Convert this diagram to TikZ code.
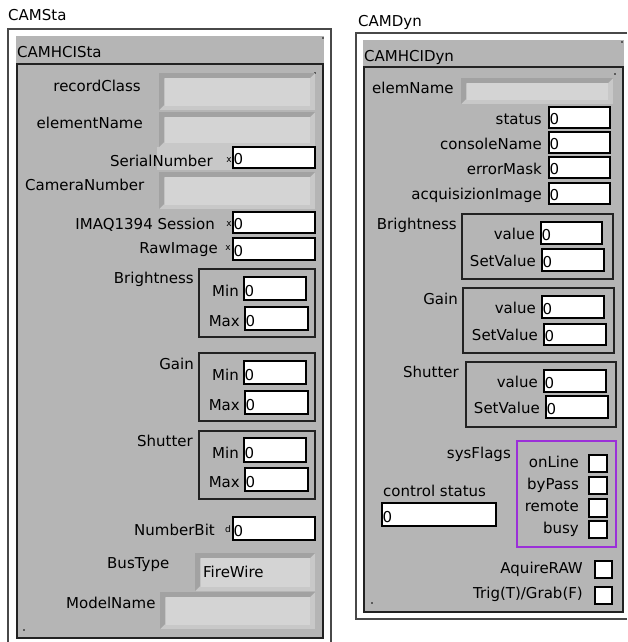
\documentclass[tikz,border=0pt]{standalone}
\usepackage{fontspec}
\setmainfont{DejaVu Sans}
\definecolor{panelgray}{HTML}{B5B5B5}
\definecolor{rimdark}{HTML}{A2A2A2}
\definecolor{rimlight}{HTML}{C8C8C8}
\definecolor{fieldgray}{HTML}{D4D4D4}
\definecolor{outerline}{HTML}{484848}
\definecolor{innerline}{HTML}{222222}
\definecolor{flagpurple}{HTML}{9B30D8}
\newcommand\numbox[4]{%
  \filldraw[numframe] (#1,#2) rectangle (#3,#4);
  \node[lab,anchor=base west] at (#1+0.3,#4-4) {0};}
\newcommand\chkbox[4]{\filldraw[numframe] (#1,#2) rectangle (#3,#4);}
\newcommand\strbox[4]{%
  \fill[rimlight] (#1,#2) rectangle (#3,#4);
  \fill[rimdark] (#1,#4) -- (#1,#2) -- (#3,#2) -- (#3-5,#2+5) -- (#1+5,#2+5) -- (#1+5,#4-5) -- cycle;
  \fill[fieldgray] (#1+6,#2+5) rectangle (#3-5,#4-4);}
\begin{document}
\begin{tikzpicture}[x=1pt,y=-1pt,
  font=\fontsize{15}{18}\selectfont,
  lab/.style={inner sep=0pt},
  rl/.style={lab,anchor=base east},
  ll/.style={lab,anchor=base west},
  radix/.style={inner sep=0pt,anchor=base east,font=\fontsize{9}{9}\selectfont},
  outerbox/.style={draw=outerline,line width=1.6pt},
  innerbox/.style={draw=innerline,line width=1.5pt},
  clusterbox/.style={draw=innerline,line width=1.3pt},
  numframe/.style={fill=white,draw=black,line width=1.2pt},
  dot/.style={fill=black}]
\useasboundingbox (0,0) rectangle (627,642);
\fill[white] (0,0) rectangle (627,642);

% ================= LEFT: CAMSta =================
\node[ll] (camsta) at (8,21) {CAMSta};
\draw[outerbox] (8,642) -- (8,29) -- (331,29) -- (331,642);
\fill[panelgray] (16,36) rectangle (324,639);
\draw[innerbox] (17,64) rectangle (323,638);
\node[ll] (camhcista) at (17,57) {CAMHCISta};
\fill[dot] (323,38) circle (0.8);
\fill[dot] (315,73) circle (0.8);
\fill[dot] (24,630) circle (0.8);

\strbox{159}{73}{315}{110}
\node[rl] (recordclass) at (141,92) {recordClass};
\strbox{159}{112}{315}{147}
\node[rl] (elementname) at (143,128) {elementName};
\fill[rimlight] (157,147) rectangle (232,170);
\node[rl] (serialnumber) at (213,166) {SerialNumber};
\node[radix] at (232,162) {x};
\numbox{233}{147}{315}{168}
\strbox{159}{172}{315}{209}
\node[ll] (cameranumber) at (25,190) {CameraNumber};
\node[rl] (session) at (215,229) {IMAQ1394 Session};
\node[radix] at (232,226) {x};
\numbox{233}{212}{315}{233}
\node[rl] (rawimage) at (218,253) {RawImage};
\node[radix] at (231,250) {x};
\numbox{233}{238}{315}{260}

\node[rl] (lbright) at (194,283) {Brightness};
\draw[clusterbox] (199,269) rectangle (315,337);
\node[rl] at (239,296) {Min};
\numbox{244}{277}{306}{300}
\node[rl] at (240,326) {Max};
\numbox{245}{307}{308}{330}

\node[rl] (lgain) at (194,369) {Gain};
\draw[clusterbox] (199,353) rectangle (315,421);
\node[rl] at (239,380) {Min};
\numbox{244}{361}{306}{384}
\node[rl] at (240,410) {Max};
\numbox{245}{391}{308}{414}

\node[rl] (lshutter) at (193,446) {Shutter};
\draw[clusterbox] (199,431) rectangle (315,499);
\node[rl] at (239,458) {Min};
\numbox{244}{438}{306}{462}
\node[rl] at (240,487) {Max};
\numbox{245}{468}{308}{491}

\node[rl] (numberbit) at (215,535) {NumberBit};
\node[radix] at (231,532) {d};
\numbox{233}{517}{315}{540}

\strbox{195}{553}{315}{591}
\node[ll] (bustype) at (107,568) {BusType};
\node[ll] (firewire) at (203,577) {FireWire};
\strbox{160}{592}{315}{629}
\node[ll] (modelname) at (66,608) {ModelName};

% ================= RIGHT: CAMDyn =================
\node[ll] (camdyn) at (358,27) {CAMDyn};
\draw[outerbox] (627,33) -- (356,33) -- (356,619) -- (627,619);
\fill[panelgray] (363,40) rectangle (624,613);
\draw[innerbox] (364,67) rectangle (623,612);
\node[ll] (camhcidyn) at (364,61) {CAMHCIDyn};
\fill[dot] (622,42) circle (0.8);
\fill[dot] (615,74) circle (0.8);
\fill[dot] (372,603) circle (0.8);

\node[ll] (elemname) at (372,93) {elemName};
\strbox{461}{78}{613}{104}

\node[rl] (status) at (542,124) {status};
\numbox{549}{107}{610}{128}
\node[rl] (consolename) at (542,149) {consoleName};
\numbox{549}{132}{610}{153}
\node[rl] (errormask) at (542,174) {errorMask};
\numbox{549}{157}{610}{178}
\node[rl] (acqimage) at (542,199) {acquisizionImage};
\numbox{549}{183}{610}{204}

\node[rl] (rbright) at (457,229) {Brightness};
\draw[clusterbox] (462,214) rectangle (613,279);
\node[rl] at (535,239) {value};
\numbox{541}{222}{602}{244}
\node[rl] at (536,266) {SetValue};
\numbox{542}{249}{604}{271}

\node[rl] (rgain) at (458,304) {Gain};
\draw[clusterbox] (463,288) rectangle (614,353);
\node[rl] at (536,313) {value};
\numbox{542}{296}{604}{318}
\node[rl] at (538,340) {SetValue};
\numbox{544}{324}{606}{345}

\node[rl] (rshutter) at (459,377) {Shutter};
\draw[clusterbox] (466,362) rectangle (616,427);
\node[rl] at (538,387) {value};
\numbox{544}{370}{606}{392}
\node[rl] at (540,413) {SetValue};
\numbox{546}{396}{608}{418}

\node[rl] (sysflags) at (511,458) {sysFlags};
\draw[draw=flagpurple,line width=1.4pt] (517,441) rectangle (616,547);
\node[rl] at (579,467) {onLine};
\chkbox{589}{455}{607}{472}
\node[rl] at (579,489) {byPass};
\chkbox{589}{477}{607}{494}
\node[rl] at (579,511) {remote};
\chkbox{589}{499}{607}{517}
\node[rl] at (579,533) {busy};
\chkbox{589}{521}{607}{538}

\node[ll] (controlstatus) at (383,496) {control status};
\numbox{382}{503}{496}{526}

\node[rl] (aquireraw) at (583,573) {AquireRAW};
\chkbox{595}{561}{612}{578}
\node[rl] (trig) at (583,598) {Trig(T)/Grab(F)};
\chkbox{595}{587}{612}{604}
\end{tikzpicture}
\end{document}
